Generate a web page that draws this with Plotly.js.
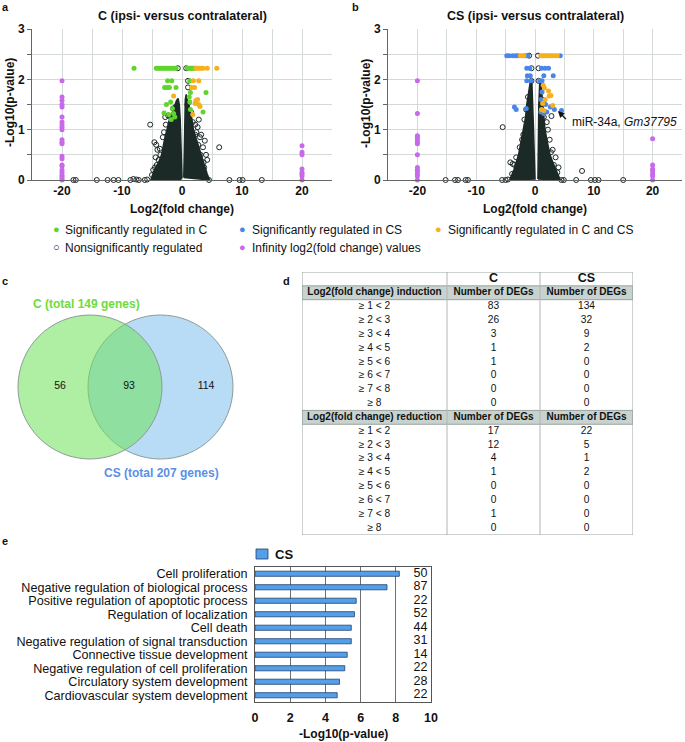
<!DOCTYPE html>
<html>
<head>
<meta charset="utf-8">
<script src="https://cdn.plot.ly/plotly-3.0.1.min.js"></script>
<style>body{margin:0;background:#fff}#fig{width:685px;height:742px}</style>
</head>
<body>
<div id="fig"></div>
<script>
// ---- panel a: C volcano (log2 fold change, -log10 p) ----
const coreALeft = [[-5.2,0],[-4.6,0.2],[-3.9,0.35],[-3.4,0.5],[-3.0,0.75],[-2.55,1.0],[-2.1,1.2],[-1.6,1.35],[-1.2,1.5],[-0.9,1.58],[-0.65,1.62],[-0.45,1.5],[-0.3,1.2],[-0.2,0.8],[-0.1,0.4],[0.0,0.05],[-0.3,0],[-5.2,0]];
const coreARight = [[0.3,0.05],[0.35,0.6],[0.45,1.2],[0.55,1.6],[0.7,1.7],[0.9,1.6],[1.2,1.45],[1.6,1.25],[1.9,1.0],[2.4,0.8],[3.0,0.55],[3.5,0.35],[4.2,0.12],[4.6,0],[0.3,0.05]];
const nsA = [[-18.1,0],[-17.7,0],[-14.2,0],[-12.4,0],[-11.4,0],[-10.6,0],[-8.6,0],[-8.1,0.02],[-7.6,0.01],[-7.2,0],[-6.2,0],[-5.8,0.01],[4.5,0],[7.9,0],[9.6,0],[10.1,0],[13.3,0],
  [-5.3,1.1],[-4.6,0.75],[-4.3,0.7],[-4.1,0.6],[-4.4,0.45],[-3.9,0.4],[-4.5,0.25],[-4.8,0.2],[-4.0,0.15],[-3.6,0.5],[-3.3,0.3],[6.2,0.65],[3.8,0.78],[3.5,0.65],[4.0,0.5],[4.2,0.4],[3.6,0.35],[3.2,0.9],[3.3,0.28],[2.8,1.2],[2.6,1.05],[3.0,0.85],[2.4,0.95],[-2.8,1.25],[-3.0,0.95],[-2.3,1.28],[2.2,1.1],[2.0,0.6],
  [-0.7,2.22],[0.7,2.22],[1.0,1.97],[1.0,1.84],[-1.1,1.45],[0.9,1.5],
  [-3.7,0.62],[-3.2,0.85],[-2.7,1.1],[-2.0,1.27],[-1.5,1.42],[1.5,1.35],[1.8,1.15],[2.2,0.9],[2.7,0.7],[3.1,0.5],[3.7,0.25],[-4.2,0.3],[-5.0,0.1]];
const sigCA = [[-8.0,2.22],[-4.3,2.22],[-4.0,2.22],[-3.7,2.22],[-3.4,2.22],[-3.1,2.22],[-2.8,2.22],[-2.5,2.22],[-2.2,2.22],[-1.9,2.22],[-1.6,2.22],[-1.3,2.22],[-1.0,2.22],
  [0.9,2.22],[1.1,2.22],[1.3,2.22],[1.5,2.22],[1.7,2.22],[1.9,2.22],[2.1,2.22],[-2.4,1.97],[-1.7,1.97],[1.3,1.97],
  [-2.9,1.84],[-2.5,1.84],[-2.1,1.84],[-1.0,1.84],[4.0,1.74],[1.4,1.74],[1.2,1.65],[-1.9,1.55],[1.3,1.55],[-2.6,1.5],[-1.6,1.42],
  [-3.0,1.33],[-2.2,1.3],[-1.4,1.32],[3.5,1.35],[1.4,1.4],[-1.8,1.2],[-1.2,1.25]];
const sigBothA = [[2.3,2.22],[2.6,2.22],[2.9,2.22],[3.2,2.22],[3.5,2.22],[4.2,2.22],[5.8,2.22],[1.9,1.97],[2.8,1.97],[1.6,1.84],[2.1,1.84],
  [-1.4,1.67],[2.3,1.58],[2.6,1.6],[2.2,1.52],[2.8,1.5],[3.0,1.46],[1.8,1.3]];
const infA = [[-20,1.97],[-20,1.65],[-20,1.58],[-20,1.5],[-20,1.45],[-20,1.25],[-20,1.15],[-20,1.1],[-20,1.05],[-20,1.0],[-20,0.8],[-20,0.75],[-20,0.72],
  [-20,0.47],[-20,0.42],[-20,0.3],[-20,0.28],[-20,0.2],[-20,0.15],[-20,0.1],[-20,0.07],[-20,0.03],[-20,0],
  [20,0.68],[20,0.55],[20,0.5],[20,0.22],[20,0.15],[20,0.12],[20,0.08],[20,0]];

// ---- panel b: CS volcano ----
const coreBLeft = [[-4.3,0],[-3.6,0.2],[-2.8,0.5],[-2.4,0.75],[-2.0,1.0],[-1.6,1.25],[-1.4,1.5],[-1.1,1.75],[-0.8,1.95],[-0.55,2.0],[-0.4,1.6],[-0.25,1.0],[-0.1,0.4],[0.0,0.02],[-4.3,0]];
const coreBRight = [[0.5,0.02],[0.55,0.8],[0.65,1.5],[0.8,1.9],[0.95,2.0],[1.1,1.8],[1.3,1.5],[1.7,1.0],[2.1,0.75],[2.55,0.5],[3.2,0.3],[3.8,0.12],[4.3,0],[0.5,0.02]];
const nsB = [[-1.0,2.47],[0.5,2.47],[-0.6,2.22],[0.6,2.22],[-0.6,1.97],[0.6,1.97],[2.8,1.27],[-5.5,1.05],[8.0,0.18],
  [-15.2,0],[-13.6,0],[-13.1,0],[-11.8,0],[-11.4,0],[-5.6,0],[-5.0,0],[-4.6,0.01],[7.0,0],[9.5,0],[10.2,0],[10.8,0],[15.0,0],[4.5,0],[4.9,0],
  [-4.2,0.35],[-3.8,0.32],[-3.5,0.3],[-3.0,0.2],[-3.9,0.12],[-2.6,0.65],[-2.2,0.8],[-2.0,0.9],[3.5,0.45],[3.0,0.6],[2.5,0.8],[3.2,0.3],[2.2,1.0],[2.0,1.15],[-1.8,1.2],[3.8,0.15],[4.0,0.25],
  [-1.5,1.4],[-1.2,1.65],[1.5,1.25],[1.2,1.6],[2.7,0.55],[-3.2,0.45]];
const sigCSB = [[-4.8,2.47],[-4.4,2.47],[-3.8,2.47],[-3.3,2.47],[-2.9,2.47],[-1.6,2.47],[-1.2,2.47],[4.3,2.47],
  [-1.4,2.22],[-0.9,2.22],[1.1,2.22],[1.7,2.22],[2.3,2.22],[-1.3,2.07],[-0.8,2.07],[1.5,2.07],[3.1,2.07],
  [-1.4,1.97],[-0.7,1.97],[0.8,1.97],[1.2,1.97],[-3.5,1.45],[-3.2,1.4],[-1.5,1.42],[1.5,1.55],[1.8,1.5],[2.6,1.45],[3.3,1.4],[4.5,1.38],
  [1.0,1.35],[1.5,1.32],[2.0,1.35],[1.2,1.75],[1.0,1.6]];
const sigBothB = [[-2.5,2.47],[-2.1,2.47],[-1.9,2.47],[1.0,2.47],[1.3,2.47],[1.6,2.47],[1.9,2.47],[2.2,2.47],[2.5,2.47],[2.8,2.47],[3.1,2.47],[3.5,2.47],[3.8,2.47],
  [1.4,1.88],[1.6,1.83],[2.3,1.77],[2.4,1.67],[2.7,1.68],[1.7,1.6],[1.3,1.52],[3.0,1.48],[1.1,1.4],[1.5,1.38]];
const infB = [[-20,1.97],[-20,1.32],[-20,0.88],[-20,0.85],[-20,0.8],[-20,0.75],[-20,0.72],[-20,0.5],[-20,0.25],[-20,0.2],[-20,0.18],[-20,0.12],[-20,0.08],[-20,0],
  [20,0.82],[20,0.3],[20,0.22],[20,0.18],[20,0.12],[20,0.08],[20,0]];
const labelPoint = [3.9, 1.37];

// ---- panel c: venn ----
const vennCounts = [56, 93, 114];
const vennTotals = [149, 207];

// ---- panel d: table ----
const foldRanges = ['≥ 1 < 2','≥ 2 < 3','≥ 3 < 4','≥ 4 < 5','≥ 5 < 6','≥ 6 < 7','≥ 7 < 8','≥ 8'];
const inductionC = [83, 26, 3, 1, 1, 0, 0, 0];
const inductionCS = [134, 32, 9, 2, 0, 0, 0, 0];
const reductionC = [17, 12, 4, 1, 0, 0, 1, 0];
const reductionCS = [22, 5, 1, 2, 0, 0, 0, 0];

// ---- panel e: GO terms ----
const goTerms = ['Cell proliferation','Negative regulation of biological process','Positive regulation of apoptotic process','Regulation of localization','Cell death',
  'Negative regulation of signal transduction','Connective tissue development','Negative regulation of cell proliferation','Circulatory system development','Cardiovascular system development'];
const goLogP = [8.2, 7.5, 5.75, 5.65, 5.47, 5.47, 5.24, 5.1, 4.8, 4.67];
const goGenes = [50, 87, 22, 52, 44, 31, 14, 22, 28, 22];

const W = 685, H = 742;
const px = x => x / W;
const py = y => 1 - y / H;
const FONT = 'Liberation Sans, Arial, sans-serif';
const DARK = '#1c2a27';
const GREEN = '#5fd42e', BLUE = '#4a86e8', ORANGE = '#f6b01e', MAGENTA = '#c868ea';

function pts(list, ax, ay, style) {
  return Object.assign({x: list.map(p => p[0]), y: list.map(p => p[1]), xaxis: ax, yaxis: ay, type: 'scatter', showlegend: false, hoverinfo: 'skip', cliponaxis: false}, style);
}
const coreStyle = {mode: 'lines', fill: 'toself', fillcolor: DARK, line: {color: DARK, width: 1.5}};
const openStyle = {mode: 'markers', marker: {symbol: 'circle-open', size: 5, color: DARK, line: {width: 1}}};
const dot = c => ({mode: 'markers', marker: {size: 5, color: c}});

const traces = [
  pts(coreALeft, 'x', 'y', coreStyle), pts(coreARight, 'x', 'y', coreStyle),
  pts(nsA, 'x', 'y', openStyle), pts(sigCA, 'x', 'y', dot(GREEN)), pts(sigBothA, 'x', 'y', dot(ORANGE)), pts(infA, 'x', 'y', dot(MAGENTA)),
  pts(coreBLeft, 'x2', 'y2', coreStyle), pts(coreBRight, 'x2', 'y2', coreStyle),
  pts(nsB, 'x2', 'y2', openStyle), pts(sigCSB, 'x2', 'y2', dot(BLUE)), pts(sigBothB, 'x2', 'y2', dot(ORANGE)), pts(infB, 'x2', 'y2', dot(MAGENTA)),
];

// venn counts
traces.push({type: 'scatter', mode: 'text', x: [60, 129, 206], y: [386, 386, 386], text: vennCounts.map(String), xaxis: 'x3', yaxis: 'y3',
  textfont: {family: FONT, size: 10.5, color: '#111'}, showlegend: false, hoverinfo: 'skip'});

// table text
const colMid = [72.5, 191.5, 284.5];
const rowsInd = foldRanges.map((_, i) => i + 2.5);
const rowsRed = foldRanges.map((_, i) => i + 11.5);
const tText = (x, y, text, size, weight) => ({type: 'scatter', mode: 'text', x, y, text, xaxis: 'x4', yaxis: 'y4', showlegend: false, hoverinfo: 'skip', cliponaxis: false,
  textfont: {family: FONT, size, color: '#111', weight}});
traces.push(tText([colMid[1], colMid[2]], [0.5, 0.5], ['C', 'CS'], 12.5, 'bold'));
traces.push(tText(colMid, [1.5, 1.5, 1.5], ['Log2(fold change) induction', 'Number of DEGs', 'Number of DEGs'], 10, 'bold'));
traces.push(tText(colMid, [10.5, 10.5, 10.5], ['Log2(fold change) reduction', 'Number of DEGs', 'Number of DEGs'], 10, 'bold'));
traces.push(tText(foldRanges.map(() => colMid[0]), rowsInd, foldRanges, 10.2, 'normal'));
traces.push(tText(inductionC.map(() => colMid[1]), rowsInd, inductionC.map(String), 10.2, 'normal'));
traces.push(tText(inductionCS.map(() => colMid[2]), rowsInd, inductionCS.map(String), 10.2, 'normal'));
traces.push(tText(foldRanges.map(() => colMid[0]), rowsRed, foldRanges, 10.2, 'normal'));
traces.push(tText(reductionC.map(() => colMid[1]), rowsRed, reductionC.map(String), 10.2, 'normal'));
traces.push(tText(reductionCS.map(() => colMid[2]), rowsRed, reductionCS.map(String), 10.2, 'normal'));

// GO bars
traces.push({type: 'bar', orientation: 'h', name: 'CS', x: goLogP, y: goTerms, xaxis: 'x5', yaxis: 'y5', width: 0.38,
  marker: {color: '#559fe8', line: {color: '#1d3f72', width: 0.8}}, showlegend: false, hoverinfo: 'skip'});
traces.push({type: 'scatter', mode: 'text', x: goTerms.map(() => 9.8), y: goTerms, text: goGenes.map(String), textposition: 'middle left',
  xaxis: 'x5', yaxis: 'y5', textfont: {family: FONT, size: 12.5, color: '#111'}, showlegend: false, hoverinfo: 'skip'});

const gridX = [-20, -15, -10, -5, 0, 5, 10, 15, 20, 25];
const volX = (dom) => ({domain: dom, range: [-25, 25], tickvals: gridX, ticktext: gridX.map(v => v % 10 === 0 ? String(v) : ''),
  showgrid: true, gridcolor: '#d3dad7', gridwidth: 1, zeroline: false, showline: true, linecolor: '#666', ticks: '',
  tickfont: {family: FONT, size: 12, weight: 'bold', color: '#111'}, fixedrange: true});
const gridY = [0, 0.5, 1, 1.5, 2, 2.5, 3];
const volY = {domain: [py(180), py(29)], range: [0, 3], tickvals: gridY, ticktext: gridY.map(v => Number.isInteger(v) ? String(v) : ''),
  showgrid: true, gridcolor: '#d3dad7', zeroline: false, showline: true, linecolor: '#666', ticks: 'outside', ticklen: 4, tickcolor: '#666',
  tickfont: {family: FONT, size: 12, weight: 'bold', color: '#111'}, fixedrange: true};

const ann = (x, y, text, o) => Object.assign({xref: 'paper', yref: 'paper', x: px(x), y: py(y), text, showarrow: false, xanchor: 'center', yanchor: 'middle',
  font: {family: FONT, size: 12, color: '#111'}}, o || {});
const bold = (s, c) => ({family: FONT, size: s, color: c || '#111', weight: 'bold'});

const annotations = [
  ann(5, 7, 'a', {font: bold(11)}), ann(355, 7, 'b', {font: bold(11)}), ann(5, 281, 'c', {font: bold(11)}),
  ann(286, 281, 'd', {font: bold(11)}), ann(5, 541, 'e', {font: bold(11)}),
  ann(182, 16, 'C (ipsi- versus contralateral)', {font: bold(12.5)}),
  ann(535, 16, 'CS (ipsi- versus contralateral)', {font: bold(12.5)}),
  ann(182, 209, 'Log2(fold change)', {font: bold(12)}),
  ann(535, 209, 'Log2(fold change)', {font: bold(12)}),
  ann(10, 103, '-Log10(p-value)', {font: bold(12), textangle: -90}),
  ann(366, 103, '-Log10(p-value)', {font: bold(12), textangle: -90}),
  {xref: 'x2', yref: 'y2', x: labelPoint[0], y: labelPoint[1], ax: 11, ay: 11, text: ' ', showarrow: true, arrowhead: 2, arrowsize: 1, arrowwidth: 1.3, arrowcolor: '#111'},
  {xref: 'x2', yref: 'y2', x: 5.9, y: 1.15, xanchor: 'left', yanchor: 'middle', text: 'miR-34a, <i>Gm37795</i>', showarrow: false, font: {family: FONT, size: 12, color: '#111'}},
  // legend of volcano plots
  ann(56, 229, '●', {font: {family: FONT, size: 11, color: GREEN}}), ann(63, 230, 'Significantly regulated in C', {xanchor: 'left'}),
  ann(243, 229, '●', {font: {family: FONT, size: 11, color: BLUE}}), ann(250, 230, 'Significantly regulated in CS', {xanchor: 'left'}),
  ann(438, 229, '●', {font: {family: FONT, size: 11, color: ORANGE}}), ann(446, 230, 'Significantly regulated in C and CS', {xanchor: 'left'}),
  ann(56, 247, '○', {font: {family: FONT, size: 11, color: '#111'}}), ann(63, 248, 'Nonsignificantly regulated', {xanchor: 'left'}),
  ann(243, 247, '●', {font: {family: FONT, size: 11, color: MAGENTA}}), ann(250, 248, 'Infinity log2(fold change) values', {xanchor: 'left'}),
  // venn titles
  ann(86, 304, 'C (total ' + vennTotals[0] + ' genes)', {font: bold(12, '#6edb3c')}),
  ann(161, 473, 'CS (total ' + vennTotals[1] + ' genes)', {font: bold(12, '#5a8fe6')}),
  // GO legend + axis title
  ann(273, 554, 'CS', {xanchor: 'left', font: bold(13)}),
  ann(343, 734, '-Log10(p-value)', {font: bold(12)}),
];

const shapes = [
  {type: 'circle', xref: 'x3', yref: 'y3', x0: 88, x1: 233, y0: 315, y1: 459, fillcolor: '#b9dcf6', line: {color: '#8c9c96', width: 1}, layer: 'below'},
  {type: 'circle', xref: 'x3', yref: 'y3', x0: 18, x1: 162, y0: 315, y1: 459, fillcolor: 'rgba(110,226,90,0.55)', line: {color: '#8c9c96', width: 1}, layer: 'below'},
  {type: 'rect', xref: 'x4', yref: 'y4', x0: 0, x1: 331, y0: 1, y1: 2, fillcolor: '#c8d2ce', line: {color: '#9aa39f', width: 1}, layer: 'below'},
  {type: 'rect', xref: 'x4', yref: 'y4', x0: 0, x1: 331, y0: 10, y1: 11, fillcolor: '#c8d2ce', line: {color: '#9aa39f', width: 1}, layer: 'below'},
  {type: 'line', xref: 'x4', yref: 'y4', x0: 145, x1: 145, y0: 0, y1: 19, line: {color: '#b0b6b3', width: 1}},
  {type: 'line', xref: 'x4', yref: 'y4', x0: 238, x1: 238, y0: 0, y1: 19, line: {color: '#b0b6b3', width: 1}},
  {type: 'rect', xref: 'x4', yref: 'y4', x0: 0, x1: 331, y0: 0, y1: 19, line: {color: '#9aa39f', width: 1}},
  // legend swatch for GO bars
  {type: 'rect', xref: 'paper', yref: 'paper', x0: px(256), x1: px(268), y0: py(559), y1: py(549), fillcolor: '#559fe8', line: {color: '#1d3f72', width: 0.8}},
];

const hidden = (dom, range) => ({domain: dom, range, visible: false, fixedrange: true});

const layout = {
  width: W, height: H, margin: {l: 0, r: 0, t: 0, b: 0}, paper_bgcolor: '#fff', plot_bgcolor: 'rgba(0,0,0,0)',
  font: {family: FONT, color: '#111'}, showlegend: false,
  xaxis: volX([px(32), px(332)]), yaxis: Object.assign({}, volY, {anchor: 'x'}),
  xaxis2: Object.assign(volX([px(388), px(682)]), {anchor: 'y2'}), yaxis2: Object.assign({}, volY, {anchor: 'x2'}),
  xaxis3: Object.assign(hidden([0, px(340)], [0, 340]), {anchor: 'y3'}), yaxis3: Object.assign(hidden([py(555), py(285)], [555, 285]), {anchor: 'x3'}),
  xaxis4: Object.assign(hidden([px(302), px(633)], [0, 331]), {anchor: 'y4'}), yaxis4: Object.assign(hidden([py(535), py(272)], [19, 0]), {anchor: 'x4'}),
  xaxis5: {domain: [px(255), px(431)], range: [0, 10], anchor: 'y5', tickvals: [0, 2, 4, 6, 8, 10], showgrid: true, gridcolor: '#6b716e',
    showline: true, mirror: true, linecolor: '#555', zeroline: false, ticks: '', ticklabelstandoff: 4, tickfont: bold(12.5), fixedrange: true},
  yaxis5: {domain: [py(702), py(567)], anchor: 'x5', type: 'category', categoryarray: goTerms, autorange: 'reversed', showline: true, mirror: true,
    tickmode: 'array', tickvals: goTerms, ticktext: goTerms,
    linecolor: '#555', ticks: '', ticklabelstandoff: 4, tickfont: {family: FONT, size: 12.6, color: '#111'}, fixedrange: true},
  annotations, shapes,
};

Plotly.newPlot('fig', traces, layout, {displayModeBar: false, staticPlot: true});
</script>
</body>
</html>
